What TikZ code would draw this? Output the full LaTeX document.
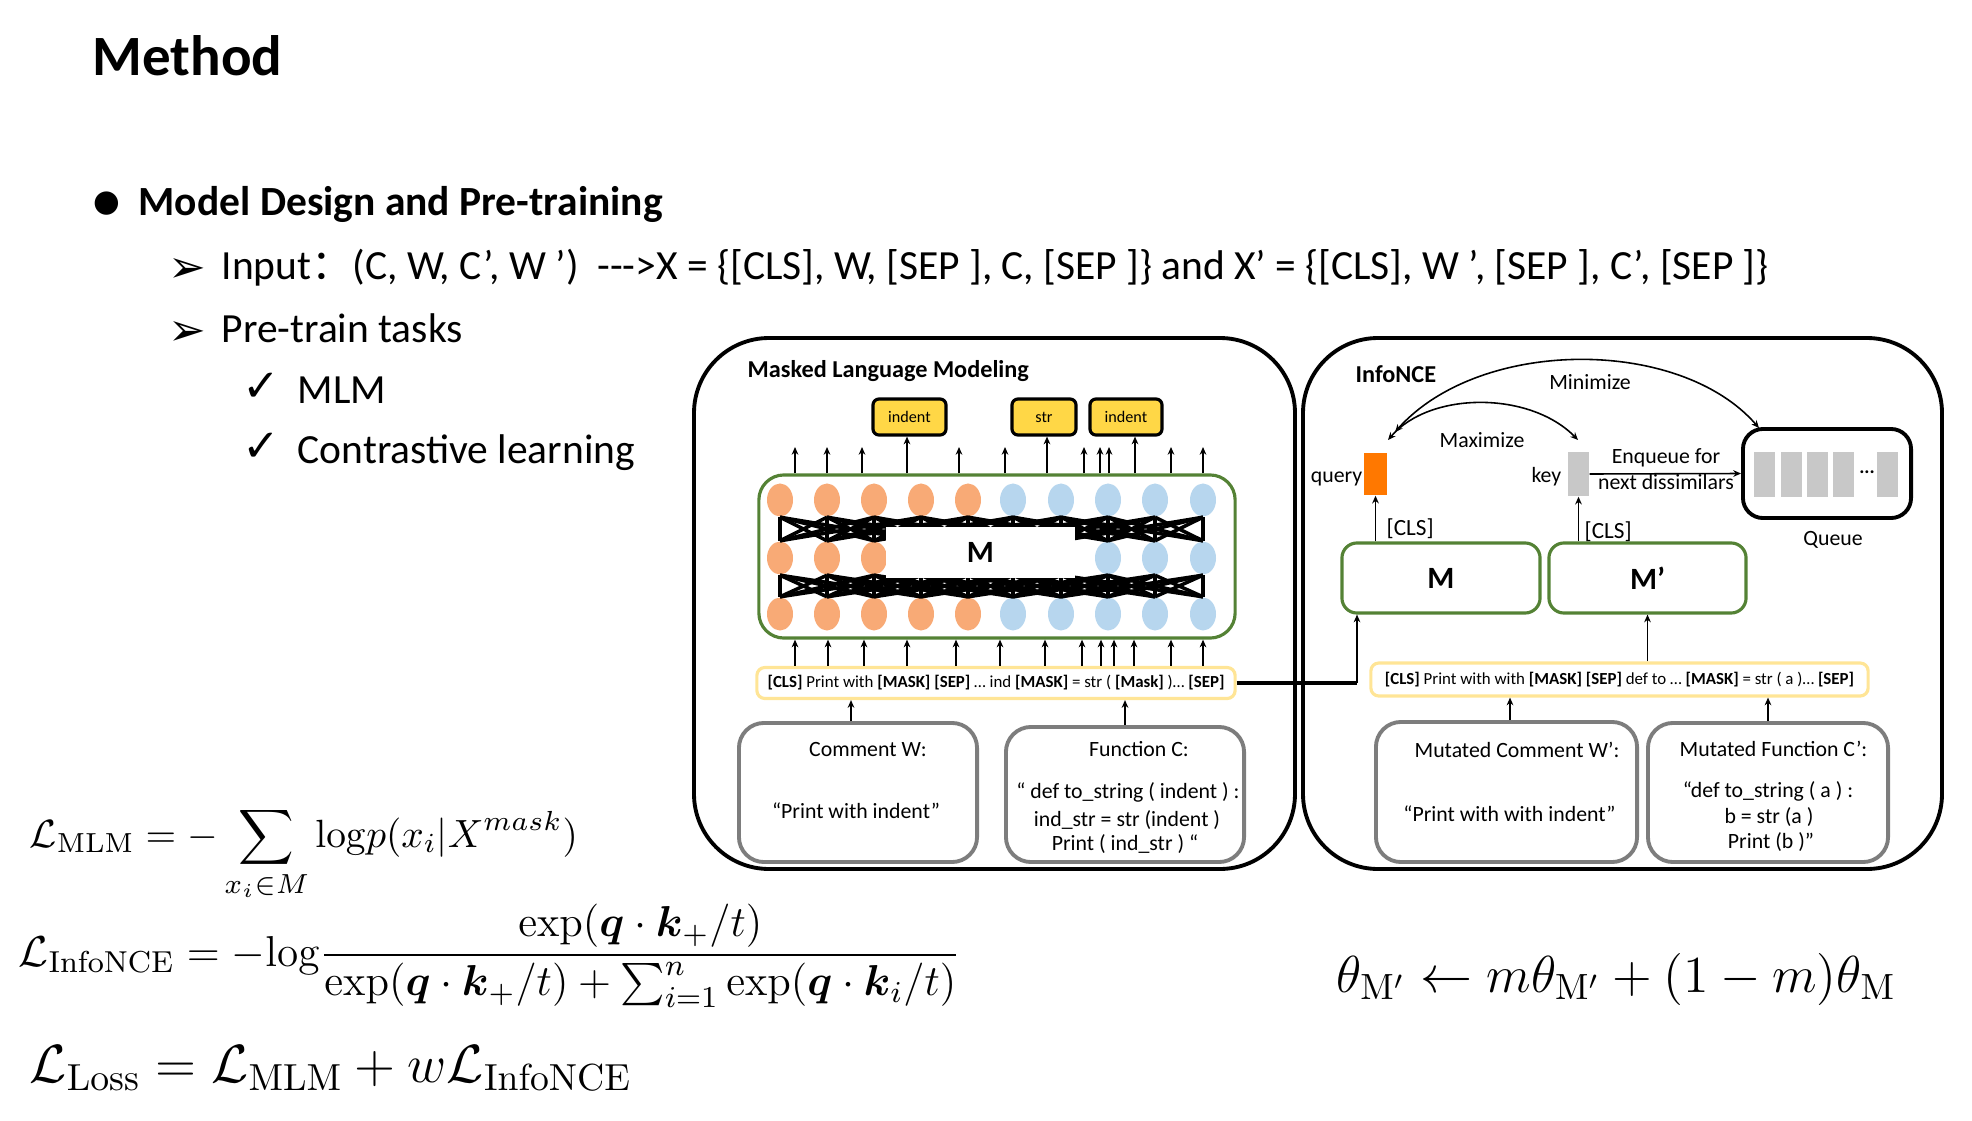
\documentclass[tikz,border=0pt]{standalone}
\usepackage{fix-cm}
\usepackage{amsmath}
\usepackage[no-math]{fontspec}
\setmainfont{Carlito}
\newfontfamily\symf{DejaVu Sans}
\newfontfamily\cjkf{Noto Sans CJK SC}
\usetikzlibrary{positioning}
\usetikzlibrary{arrows.meta,shapes.geometric}

\definecolor{tokorange}{RGB}{248,170,118}
\definecolor{tokblue}{RGB}{183,214,238}
\definecolor{mgreen}{RGB}{84,130,53}
\definecolor{outyellow}{RGB}{255,215,70}
\definecolor{baryellow}{RGB}{255,229,150}
\definecolor{boxgray}{RGB}{125,125,125}
\definecolor{qorange}{RGB}{255,120,0}
\definecolor{kgray}{RGB}{200,200,200}

\newcommand{\setfs}[1]{\fontsize{#1}{#1}\selectfont}

\begin{document}
\begin{tikzpicture}[x=0.01cm,y=-0.01cm,
  every node/.style={inner sep=0pt},
  body/.style={anchor=base west,font=\setfs{11.8}},
  dtxt/.style={anchor=base,font=\setfs{6.2}},
  arr/.style={-{Stealth[length=2.2pt,width=1.9pt]},line width=0.45pt},
  dblarr/.style={{Stealth[length=2.2pt,width=1.9pt]}-{Stealth[length=2.2pt,width=1.9pt]},line width=0.45pt},
  panel/.style={draw,line width=1.1pt,rounded corners=0.75cm},
  model/.style={draw=mgreen,line width=0.9pt,rounded corners=0.25cm},
  inbar/.style={draw=baryellow,line width=0.9pt,fill=white,rounded corners=0.08cm,minimum height=0.31cm},
  srcbox/.style={draw=boxgray,line width=1.1pt,rounded corners=0.25cm},
  outbox/.style={draw,fill=outyellow,line width=0.9pt,rounded corners=0.06cm,minimum height=0.36cm,font=\setfs{4.6}},
  tok/.style={ellipse,minimum width=0.26cm,minimum height=0.33cm},
  mesh/.style={line width=1pt},
  vec/.style={minimum width=0.21cm,minimum height=0.44cm}]
\useasboundingbox (0,0) rectangle (1972,1121);

% slide text
\node[body,font=\setfs{16.2}\bfseries] (title) at (92,75) {Method};
\node[body,font=\setfs{8.7}\symf] (dot) at (93,211) {●};
\node[body,font=\setfs{11.8}\bfseries] (design) at (138,215) {Model Design and Pre-training};
\node[body,font=\setfs{12.8}\symf] (bul1) at (168,282) {➢};
\node[body] (inputln) at (221,279) {Input{\cjkf ：}(C, W, C’, W ’)\ \ {-}{-}{-}>X = \{[CLS], W, [SEP ], C, [SEP ]\} and X’ = \{[CLS], W ’, [SEP ], C’, [SEP ]\}};
\node[body,font=\setfs{12.8}\symf] (bul2) at (168,345) {➢};
\node[body] (tasks) at (221,342) {Pre-train tasks};
\node[body,font=\setfs{12.8}\symf] (chk1) at (242,401) {✓};
\node[body] (mlm) at (297,403) {MLM};
\node[body,font=\setfs{12.8}\symf] (chk2) at (242,461) {✓};
\node[body] (cl) at (297,463) {Contrastive learning};

% MLM panel
\draw[panel] (694,338) rectangle (1295,869);
\node[anchor=base west,font=\setfs{6.9}\bfseries] (mlmtitle) at (747,377) {Masked Language Modeling};
\node[outbox,minimum width=0.73cm] (out1) at (909.5,417) {indent};
\node[outbox,minimum width=0.64cm] (out2) at (1044,417) {str};
\node[outbox,minimum width=0.72cm] (out3) at (1126,417) {indent};
\node[model,minimum width=4.76cm,minimum height=1.63cm] (mlmbox) at (997,556.5) {};
\foreach \x/\c [count=\i] in {780/tokorange,827/tokorange,874/tokorange,921/tokorange,968/tokorange,1013/tokblue,1061/tokblue,1108/tokblue,1155/tokblue,1203/tokblue}{
  \node[tok,fill=\c] (a\i) at (\x,500) {};
  \node[tok,fill=\c] (b\i) at (\x,558) {};
  \node[tok,fill=\c] (c\i) at (\x,614) {};
}
\foreach \i in {1,...,10}
  \foreach \j in {1,...,10}{
    \pgfmathtruncatemacro\tokgap{abs(\i-\j)}
    \ifnum\tokgap<4
      \draw[mesh] (a\i.south) -- (b\j.north);
      \draw[mesh] (b\i.south) -- (c\j.north);
    \fi
  }
\node[fill=white,minimum width=1.89cm,minimum height=0.51cm,font=\setfs{8.8}\bfseries] (mlabel) at (980.5,552.5) {M};
\foreach \x in {795,827,862,959,1005,1084,1100,1109,1171,1203}
  \draw[arr] (\x,0 |- mlmbox.north) -- (\x,447);
\draw[arr] (907,0 |- mlmbox.north) -- (907,0 |- out1.south);
\draw[arr] (1047,0 |- mlmbox.north) -- (1047,0 |- out2.south);
\draw[arr] (1135,0 |- mlmbox.north) -- (1135,0 |- out3.south);
\node[inbar,minimum width=4.78cm,font=\setfs{4.8}] (mlmbar) at (996,683) {\textbf{[CLS]} Print with \textbf{[MASK]} \textbf{[SEP]} … ind \textbf{[MASK]} = str ( \textbf{[Mask]} )… \textbf{[SEP]}};
\foreach \x in {795,828,864,907,956,1000,1045,1082,1101,1114,1134,1171,1203}
  \draw[arr] (\x,0 |- mlmbar.north) -- (\x,0 |- mlmbox.south);
\node[srcbox,minimum width=2.38cm,minimum height=1.39cm] (comW) at (858,792.5) {};
\node[srcbox,minimum width=2.38cm,minimum height=1.35cm] (funC) at (1125,794.5) {};
\node[dtxt] (comWt) at (868,756) {Comment W:};
\node[dtxt] (comWq) at (856,818) {“Print with indent”};
\node[dtxt] (funCt) at (1139,756) {Function C:};
\node[dtxt] (funC1) at (1128,798) {“ def to\_string ( indent ) :};
\node[dtxt] (funC2) at (1127,826) {ind\_str = str (indent )};
\node[dtxt] (funC3) at (1125,850) {Print ( ind\_str ) “};
\draw[arr] (851,0 |- comW.north) -- (851,0 |- mlmbar.south);
\draw[arr] (funC.north) -- (funC.north |- mlmbar.south);

% InfoNCE panel
\draw[panel] (1303,338) rectangle (1942,869);
\node[anchor=base west,font=\setfs{6.9}\bfseries] (ncetitle) at (1355,382) {InfoNCE};
\node[model,minimum width=1.98cm,minimum height=0.70cm,rounded corners=0.15cm,font=\setfs{8.8}\bfseries] (Mbox) at (1441,578) {M};
\node[model,minimum width=1.97cm,minimum height=0.70cm,rounded corners=0.15cm,font=\setfs{8.8}\bfseries] (Mpbox) at (1647.5,578) {M’};
\node[vec,fill=qorange,minimum width=0.23cm,minimum height=0.42cm] (query) at (1375.5,474) {};
\node[vec,fill=kgray] (key) at (1578.5,474) {};
\node[dtxt,anchor=base east] (querylbl) at (1363,482) {query};
\node[dtxt,anchor=base east] (keylbl) at (1562,482) {key};
\draw[arr] (query.south |- Mbox.north) -- (query.south);
\draw[arr] (key.south |- Mpbox.north) -- (key.south);
\node[dtxt,anchor=base west,font=\setfs{6.6}] (cls1) at (1386,535) {[CLS]};
\node[dtxt,anchor=base west,font=\setfs{6.6}] (cls2) at (1584,538) {[CLS]};
\node[draw,line width=1.1pt,rounded corners=0.2cm,minimum width=1.68cm,minimum height=0.89cm] (queue) at (1827,473.5) {};
\foreach \x [count=\i] in {1764.5,1791,1817,1843.5,1887}
  \node[vec,fill=kgray,minimum height=0.45cm] (q\i) at (\x,474.5) {};
\node[font=\setfs{5.5}\bfseries] (qdots) at (1867,472) {...};
\node[dtxt] (queuelbl) at (1833,545) {Queue};
\draw[arr] (key.east) -- (queue.west);
\node[dtxt] (enq1) at (1666,463) {Enqueue for};
\node[dtxt] (enq2) at (1666,489) {next dissimilars};
\coordinate (maxq) at (1388,440);
\coordinate (maxk) at (1578,440);
\draw[dblarr] (maxq) .. controls (1430,391) and (1530,391) .. (maxk);
\coordinate (minq) at (1395,432);
\coordinate (minqu) at (1759,428);
\draw[dblarr] (minq) .. controls (1480,337) and (1680,337) .. (minqu);
\node[dtxt] (maxlbl) at (1482,447) {Maximize};
\node[dtxt] (minlbl) at (1590,389) {Minimize};
\node[inbar,minimum width=4.97cm,minimum height=0.33cm,font=\setfs{4.8}] (cbar) at (1619.5,679.5) {\textbf{[CLS]} Print with with \textbf{[MASK]} \textbf{[SEP]} def to … \textbf{[MASK]} = str ( a )… \textbf{[SEP]}};
\draw[arr] (Mpbox.south |- cbar.north) -- (Mpbox.south);
\node[srcbox,minimum width=2.61cm,minimum height=1.40cm] (mcomW) at (1506.5,792) {};
\node[srcbox,minimum width=2.40cm,minimum height=1.39cm] (mfunC) at (1768,792.5) {};
\node[dtxt] (mcomWt) at (1517,757) {Mutated Comment W’:};
\node[dtxt] (mcomWq) at (1509.5,821) {“Print with with indent”};
\node[dtxt] (mfunCt) at (1773.5,756) {Mutated Function C’:};
\node[dtxt] (mfunC1) at (1768,797) {“def to\_string ( a ) :};
\node[dtxt] (mfunC2) at (1769,823) {b = str (a )};
\node[dtxt] (mfunC3) at (1771,848) {Print (b )”};
\draw[arr] (1510,0 |- mcomW.north) -- (1510,0 |- cbar.south);
\draw[arr] (mfunC.north) -- (mfunC.north |- cbar.south);
\coordinate (turn) at (1357,683);
\draw[line width=1.1pt] (mlmbar.east) -- (turn);
\draw[arr] (turn) -- (turn |- Mbox.south);

% losses
\node[anchor=base west,font=\setfs{11.2}] (eqmlm) at (29,847) {$\displaystyle \mathcal{L}_{\mathrm{MLM}} = -\sum_{x_i\in M}\mathrm{log}p(x_i|X^{mask})$};
\node[anchor=base west,font=\setfs{12.3}] (eqnce) at (18,966) {$\displaystyle \mathcal{L}_{\mathrm{InfoNCE}} = -\mathrm{log}\frac{\exp(\boldsymbol{q}\cdot\boldsymbol{k}_+/t)}{\exp(\boldsymbol{q}\cdot\boldsymbol{k}_+/t)+\sum\nolimits_{i=1}^{n}\exp(\boldsymbol{q}\cdot\boldsymbol{k}_i/t)}$};
\node[anchor=base west,font=\setfs{15.3}] (eqloss) at (29,1082) {$\mathcal{L}_{\mathrm{Loss}} = \mathcal{L}_{\mathrm{MLM}} + w\mathcal{L}_{\mathrm{InfoNCE}}$};
\node[anchor=base west,font=\setfs{14.8}] (eqmom) at (1336,992) {$\theta_{\mathrm{M'}} \leftarrow m\theta_{\mathrm{M'}} + (1-m)\theta_{\mathrm{M}}$};
\end{tikzpicture}
\end{document}
